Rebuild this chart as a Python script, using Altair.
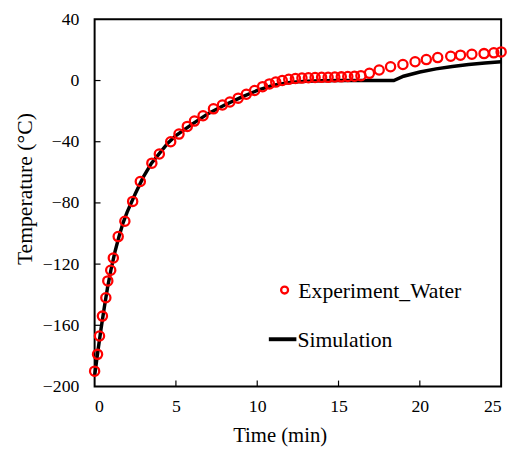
import altair as alt
import pandas as pd

# Experimental data (Experiment_Water)
exp_t = [0, 0.18, 0.30, 0.48, 0.69, 0.81, 0.99, 1.15, 1.45, 1.86, 2.34, 2.81, 3.52, 3.98,
         4.68, 5.19, 5.70, 6.14, 6.67, 7.31, 7.86, 8.32, 8.83, 9.33, 9.84, 10.33, 10.75,
         11.14, 11.54, 11.94, 12.35, 12.75, 13.15, 13.56, 13.96, 14.36, 14.77, 15.17,
         15.57, 15.98, 16.38, 16.9, 17.5, 18.2, 18.96, 19.71, 20.4, 21.1, 21.9, 22.5,
         23.2, 23.95, 24.55, 25.0]
exp_T = [-190, -179, -167, -154, -142, -131, -124, -116, -102, -92, -79, -66, -54, -48,
         -40, -35, -30, -26.5, -23, -18.5, -16, -14, -11.5, -9, -6.5, -4, -2.2,
         -1, 0, 0.8, 1.3, 1.6, 1.8, 2.0, 2.1, 2.1, 2.3, 2.4,
         2.6, 2.8, 3.2, 4.7, 6.9, 9.0, 10.5, 12.3, 13.7, 15.0, 15.9, 16.6,
         17.2, 17.6, 18.1, 18.7]

# Simulation curve
sim_t = [0, 0.2, 0.4, 0.6, 0.8, 1.0, 1.25, 1.5, 1.75, 2.0, 2.5, 3.0, 3.5, 4.0, 4.5, 5,
         6, 7, 8, 9, 10, 11, 12, 13, 14, 15, 16, 17, 18.4, 19, 20, 21, 22, 23, 24, 25]
sim_T = [-193, -177, -162, -148, -135, -124, -112, -102, -93, -86, -74, -63, -54, -47.5,
         -41, -36, -28.5, -21.5, -16, -11, -6.5, -3, -1.2, -0.5, -0.2, 0, 0, 0, 0,
         2.8, 5.6, 7.6, 9.2, 10.5, 11.5, 12.3]

x_ticks = [0, 5, 10, 15, 20, 25]
y_ticks = [-200, -160, -120, -80, -40, 0, 40]
legend_labels = ["Experiment_Water", "Simulation"]

W, H = 413, 373
FONT = "Liberation Serif"

exp_df = pd.DataFrame({"t": exp_t, "T": exp_T})
sim_df = pd.DataFrame({"t": sim_t, "T": sim_T})

xscale = alt.Scale(domain=[0, 25], nice=False, zero=False)
yscale = alt.Scale(domain=[-200, 40], nice=False, zero=False)

xaxis = alt.Axis(values=x_ticks, ticks=False, domain=False, grid=False,
                 labelFont=FONT, labelFontSize=18, labelColor="black", labelPadding=11,
                 title="Time (min)", titleFont=FONT, titleFontSize=21,
                 titleFontWeight="normal", titleColor="black",
                 titleX=188, titleY=50, titleAlign="center", titleBaseline="middle")
yaxis = alt.Axis(values=y_ticks, ticks=False, domain=False, grid=False,
                 labelFont=FONT, labelFontSize=18, labelColor="black", labelPadding=16,
                 title="Temperature (°C)", titleFont=FONT, titleFontSize=22,
                 titleFontWeight="normal", titleColor="black", titleAngle=-90,
                 titleX=-71, titleY=172, titleAlign="center", titleBaseline="middle")

line = alt.Chart(sim_df).mark_line(color="black", strokeWidth=3.5).encode(
    x=alt.X("t:Q", scale=xscale, axis=xaxis),
    y=alt.Y("T:Q", scale=yscale, axis=yaxis),
)

points = alt.Chart(exp_df).mark_point(shape="circle", filled=False, color="#ff0000",
                                      strokeWidth=2.3, size=88, opacity=1).encode(
    x=alt.X("t:Q", scale=xscale),
    y=alt.Y("T:Q", scale=yscale),
)

xt_df = pd.DataFrame({"v": x_ticks[1:-1]})
yt_df = pd.DataFrame({"v": y_ticks[1:-1]})
xticks = alt.Chart(xt_df).mark_rule(color="black", strokeWidth=1.2).encode(
    x=alt.X("v:Q", scale=xscale), y=alt.value(H), y2=alt.value(H - 6))
yticks = alt.Chart(yt_df).mark_rule(color="black", strokeWidth=1.2).encode(
    y=alt.Y("v:Q", scale=yscale), x=alt.value(0), x2=alt.value(6))

leg1 = pd.DataFrame({"label": [legend_labels[0]]})
leg2 = pd.DataFrame({"label": [legend_labels[1]]})
leg_pt = alt.Chart(leg1).mark_point(shape="circle", filled=False, color="#ff0000",
                                    strokeWidth=2.3, size=50, opacity=1).encode(
    x=alt.value(193), y=alt.value(275))
leg_txt1 = alt.Chart(leg1).mark_text(align="left", baseline="middle", font=FONT,
                                     fontSize=22, color="black").encode(
    x=alt.value(207), y=alt.value(276), text="label:N")
leg_ln = alt.Chart(leg2).mark_rule(color="black", strokeWidth=4).encode(
    x=alt.value(177), x2=alt.value(205), y=alt.value(325))
leg_txt2 = alt.Chart(leg2).mark_text(align="left", baseline="middle", font=FONT,
                                     fontSize=22, color="black").encode(
    x=alt.value(206), y=alt.value(326), text="label:N")

chart = alt.layer(xticks, yticks, line, points, leg_pt, leg_txt1, leg_ln, leg_txt2).properties(
    width=W, height=H,
    autosize=alt.AutoSizeParams(type="none"),
    padding={"left": 88, "top": 8, "right": 8, "bottom": 61},
    background="white",
).configure_view(stroke="black", strokeWidth=2)

chart.save("out.html", embed_options={"renderer": "svg", "actions": False})
